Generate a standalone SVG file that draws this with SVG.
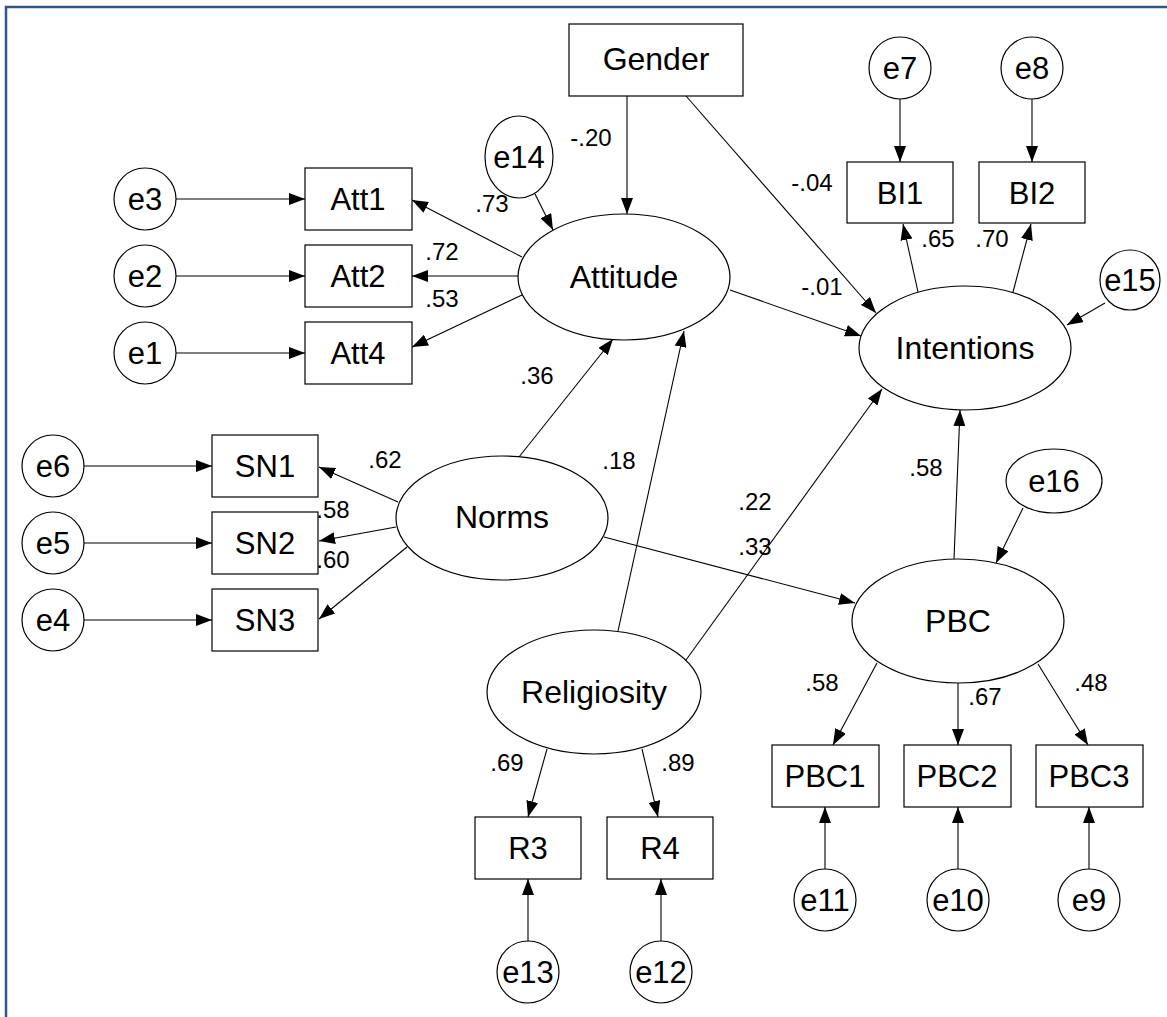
<svg xmlns="http://www.w3.org/2000/svg" width="1167" height="1017" viewBox="0 0 1167 1017">
<defs>
<marker id="ah" viewBox="0 0 16 12" refX="16" refY="6" markerWidth="16" markerHeight="12" markerUnits="userSpaceOnUse" orient="auto">
<path d="M0,0 L16,6 L0,12 z" fill="#000"/>
</marker>
<style>
.n{fill:#fff;stroke:#000;stroke-width:1.2}
.t{font-family:"Liberation Sans",Arial,sans-serif;font-size:31px;fill:#000;text-anchor:middle}
.b{font-size:32px}
.l{font-family:"Liberation Sans",Arial,sans-serif;font-size:24px;fill:#000;text-anchor:middle}
#edges line{stroke:#000;stroke-width:1.1;marker-end:url(#ah)}
</style>
</defs>
<rect width="1167" height="1017" fill="#fff"/>
<path d="M6,1017 V7 H1167" fill="none" stroke="#2e5491" stroke-width="2.5"/>

<g id="edges">
<line x1="176" y1="199" x2="305" y2="199"/>
<line x1="176" y1="276" x2="305" y2="276"/>
<line x1="176" y1="353" x2="305" y2="353"/>
<line x1="84" y1="466" x2="212" y2="466"/>
<line x1="84" y1="543" x2="212" y2="543"/>
<line x1="84" y1="620" x2="212" y2="620"/>
<line x1="522" y1="257" x2="412" y2="200"/>
<line x1="518" y1="276" x2="412" y2="276"/>
<line x1="522" y1="295" x2="412" y2="347"/>
<line x1="535" y1="194" x2="553" y2="230"/>
<line x1="627" y1="96" x2="627" y2="214"/>
<line x1="686" y1="96" x2="876" y2="313"/>
<line x1="730" y1="290" x2="861" y2="336"/>
<line x1="900" y1="99" x2="900" y2="162"/>
<line x1="1032" y1="99" x2="1032" y2="162"/>
<line x1="918" y1="292" x2="903" y2="224"/>
<line x1="1013" y1="292" x2="1031" y2="224"/>
<line x1="1105" y1="303" x2="1067" y2="325"/>
<line x1="519" y1="457" x2="613" y2="339"/>
<line x1="618" y1="631" x2="684" y2="331"/>
<line x1="686" y1="660" x2="882" y2="389"/>
<line x1="604" y1="537" x2="855" y2="603"/>
<line x1="954" y1="559" x2="960" y2="410"/>
<line x1="1023" y1="508" x2="996" y2="563"/>
<line x1="398" y1="502" x2="319" y2="467"/>
<line x1="396" y1="527" x2="319" y2="541"/>
<line x1="407" y1="547" x2="319" y2="619"/>
<line x1="547" y1="749" x2="528" y2="817"/>
<line x1="642" y1="749" x2="658" y2="817"/>
<line x1="528" y1="941" x2="528" y2="879"/>
<line x1="661" y1="941" x2="661" y2="879"/>
<line x1="877" y1="663" x2="833" y2="745"/>
<line x1="958" y1="683" x2="958" y2="745"/>
<line x1="1038" y1="664" x2="1088" y2="745"/>
<line x1="825" y1="869" x2="825" y2="807"/>
<line x1="958" y1="869" x2="958" y2="807"/>
<line x1="1089" y1="869" x2="1089" y2="807"/>
</g>

<g id="Gender"><rect class="n" x="569" y="24" width="174" height="72"/><text class="t b" x="656" y="70">Gender</text></g>
<g id="Att1"><rect class="n" x="305" y="168" width="107" height="62"/><text class="t" x="358" y="210">Att1</text></g>
<g id="Att2"><rect class="n" x="305" y="245" width="107" height="62"/><text class="t" x="358" y="287">Att2</text></g>
<g id="Att4"><rect class="n" x="305" y="322" width="107" height="62"/><text class="t" x="358" y="364">Att4</text></g>
<g id="SN1"><rect class="n" x="212" y="435" width="106" height="62"/><text class="t" x="265" y="477">SN1</text></g>
<g id="SN2"><rect class="n" x="212" y="512" width="106" height="62"/><text class="t" x="265" y="554">SN2</text></g>
<g id="SN3"><rect class="n" x="212" y="589" width="106" height="62"/><text class="t" x="265" y="631">SN3</text></g>
<g id="BI1"><rect class="n" x="847" y="162" width="106" height="61"/><text class="t" x="900" y="204">BI1</text></g>
<g id="BI2"><rect class="n" x="979" y="162" width="106" height="61"/><text class="t" x="1032" y="204">BI2</text></g>
<g id="R3"><rect class="n" x="475" y="817" width="106" height="62"/><text class="t" x="528" y="859">R3</text></g>
<g id="R4"><rect class="n" x="607" y="817" width="106" height="62"/><text class="t" x="660" y="859">R4</text></g>
<g id="PBC1"><rect class="n" x="772" y="745" width="107" height="62"/><text class="t" x="825" y="787">PBC1</text></g>
<g id="PBC2"><rect class="n" x="904" y="745" width="107" height="62"/><text class="t" x="957" y="787">PBC2</text></g>
<g id="PBC3"><rect class="n" x="1036" y="745" width="107" height="62"/><text class="t" x="1089" y="787">PBC3</text></g>

<g id="Attitude"><ellipse class="n" cx="624" cy="277" rx="106" ry="63"/><text class="t b" x="624" y="288">Attitude</text></g>
<g id="Intentions"><ellipse class="n" cx="965" cy="348" rx="106" ry="62"/><text class="t b" x="965" y="359">Intentions</text></g>
<g id="Norms"><ellipse class="n" cx="502" cy="518" rx="106" ry="62"/><text class="t b" x="502" y="528">Norms</text></g>
<g id="PBC"><ellipse class="n" cx="958" cy="621" rx="106" ry="62"/><text class="t b" x="958" y="632">PBC</text></g>
<g id="Religiosity"><ellipse class="n" cx="594" cy="692" rx="107" ry="62"/><text class="t b" x="594" y="703">Religiosity</text></g>

<g id="e14"><ellipse class="n" cx="519" cy="157" rx="34" ry="41"/><text class="t" x="519" y="168">e14</text></g>
<g id="e16"><ellipse class="n" cx="1054" cy="481" rx="48" ry="32"/><text class="t" x="1054" y="492">e16</text></g>
<g id="e3"><circle class="n" cx="145" cy="199" r="31"/><text class="t" x="145" y="210">e3</text></g>
<g id="e2"><circle class="n" cx="145" cy="276" r="31"/><text class="t" x="145" y="287">e2</text></g>
<g id="e1"><circle class="n" cx="145" cy="353" r="31"/><text class="t" x="145" y="364">e1</text></g>
<g id="e6"><circle class="n" cx="53" cy="466" r="31"/><text class="t" x="53" y="477">e6</text></g>
<g id="e5"><circle class="n" cx="53" cy="543" r="31"/><text class="t" x="53" y="554">e5</text></g>
<g id="e4"><circle class="n" cx="53" cy="620" r="31"/><text class="t" x="53" y="631">e4</text></g>
<g id="e7"><circle class="n" cx="900" cy="68" r="31"/><text class="t" x="900" y="79">e7</text></g>
<g id="e8"><circle class="n" cx="1032" cy="68" r="31"/><text class="t" x="1032" y="79">e8</text></g>
<g id="e15"><circle class="n" cx="1130" cy="280" r="30"/><text class="t" x="1130" y="291">e15</text></g>
<g id="e13"><circle class="n" cx="528" cy="972" r="31"/><text class="t" x="528" y="983">e13</text></g>
<g id="e12"><circle class="n" cx="661" cy="972" r="31"/><text class="t" x="661" y="983">e12</text></g>
<g id="e11"><circle class="n" cx="825" cy="900" r="31"/><text class="t" x="825" y="911">e11</text></g>
<g id="e10"><circle class="n" cx="958" cy="900" r="31"/><text class="t" x="958" y="911">e10</text></g>
<g id="e9"><circle class="n" cx="1089" cy="900" r="31"/><text class="t" x="1089" y="911">e9</text></g>

<g id="labels">
<text class="l" x="591" y="146">-.20</text>
<text class="l" x="492" y="212">.73</text>
<text class="l" x="442" y="260">.72</text>
<text class="l" x="442" y="307">.53</text>
<text class="l" x="812" y="191">-.04</text>
<text class="l" x="822" y="295">-.01</text>
<text class="l" x="938" y="247">.65</text>
<text class="l" x="992" y="247">.70</text>
<text class="l" x="537" y="384">.36</text>
<text class="l" x="619" y="469">.18</text>
<text class="l" x="755" y="510">.22</text>
<text class="l" x="755" y="555">.33</text>
<text class="l" x="926" y="476">.58</text>
<text class="l" x="385" y="468">.62</text>
<text class="l" x="333" y="518">.58</text>
<text class="l" x="333" y="568">.60</text>
<text class="l" x="507" y="771">.69</text>
<text class="l" x="678" y="771">.89</text>
<text class="l" x="822" y="691">.58</text>
<text class="l" x="985" y="705">.67</text>
<text class="l" x="1091" y="691">.48</text>
</g>
</svg>
